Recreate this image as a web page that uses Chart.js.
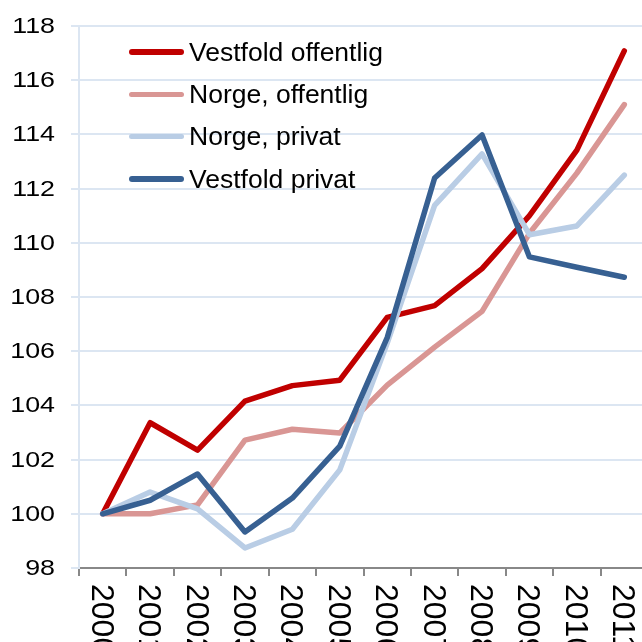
<!DOCTYPE html>
<html>
<head>
<meta charset="utf-8">
<script src="https://cdn.jsdelivr.net/npm/chart.js@4"></script>
<style>
    html, body { margin: 0; padding: 0; background: #fff; overflow: hidden; }
    #wrap { position: relative; width: 642px; height: 642px; overflow: hidden; }
    #legend { position: absolute; left: 129px; top: 31px; font: 26.5px "Liberation Sans", Arial, sans-serif; color: #000; }
    .row { display: flex; align-items: center; height: 42.3px; }
    .swatch { width: 55px; height: 5.5px; border-radius: 3px; margin-right: 5px; }
    .year { position: absolute; font: 32px/32px "Liberation Sans", Arial, sans-serif; color: #000; white-space: nowrap;
            transform-origin: 0 0; transform: rotate(90deg); }
</style>
</head>
<body>
<div id="wrap">
    <canvas id="chart" width="648" height="642"></canvas>
    <div id="legend"></div>
</div>
<script>
const years = ['2000', '2001', '2002', '2003', '2004', '2005', '2006', '2007', '2008', '2009', '2010', '2011'];
const vestfoldOffentlig = [100, 103.36, 102.35, 104.16, 104.73, 104.93, 107.25, 107.68, 109.05, 111.0, 113.42, 117.08];
const norgeOffentlig = [100, 100.0, 100.33, 102.72, 103.12, 102.98, 104.75, 106.15, 107.47, 110.35, 112.57, 115.1];
const norgePrivat = [100, 100.8, 100.18, 98.74, 99.43, 101.62, 106.3, 111.38, 113.28, 110.3, 110.62, 112.5];
const vestfoldPrivat = [100, 100.5, 101.47, 99.33, 100.58, 102.5, 106.5, 112.39, 113.98, 109.48, 109.1, 108.73];
const yTicks = [98, 100, 102, 104, 106, 108, 110, 112, 114, 116, 118];

const font = '"Liberation Sans", Arial, sans-serif';
const gridColor = '#dce6f2';

const series = [
    { label: 'Vestfold offentlig', data: vestfoldOffentlig, color: '#c00000', order: 4 },
    { label: 'Norge, offentlig', data: norgeOffentlig, color: '#d99694', order: 3 },
    { label: 'Norge, privat', data: norgePrivat, color: '#b9cde5', order: 2 },
    { label: 'Vestfold privat', data: vestfoldPrivat, color: '#376092', order: 1 }
];

// y labels drawn by hand, the source has them stretched sideways
const yLabels = {
    id: 'yLabels',
    afterDraw(chart) {
        const ctx = chart.ctx;
        const ys = chart.scales.y;
        ctx.save();
        ctx.fillStyle = '#000';
        ctx.font = '22px ' + font;
        ctx.textAlign = 'right';
        ctx.textBaseline = 'middle';
        yTicks.forEach(v => {
            ctx.save();
            ctx.translate(55, ys.getPixelForValue(v) + 1);
            ctx.scale(1.22, 1);
            ctx.fillText(String(v), 0, 0);
            ctx.restore();
        });
        ctx.restore();
    }
};

const chart = new Chart(document.getElementById('chart'), {
    type: 'line',
    data: {
        labels: years,
        datasets: series.map(s => ({
            label: s.label, data: s.data, order: s.order,
            borderColor: s.color, backgroundColor: s.color,
            borderWidth: 5.5, pointRadius: 0, tension: 0,
            borderCapStyle: 'round', borderJoinStyle: 'round'
        }))
    },
    options: {
        responsive: false,
        animation: false,
        layout: { padding: { top: 26, left: 0, right: 0, bottom: 0 } },
        plugins: { legend: { display: false }, tooltip: { enabled: false } },
        scales: {
            x: {
                offset: true,
                grid: { offset: true, drawOnChartArea: false, drawTicks: true, tickLength: 8, color: '#888', lineWidth: 2 },
                border: { color: '#888', width: 2 },
                ticks: { display: false },
                afterFit(scale) { scale.height = 74; }
            },
            y: {
                min: 98, max: 118,
                afterBuildTicks(scale) { scale.ticks = yTicks.map(v => ({ value: v })); },
                grid: { color: gridColor, lineWidth: 2, tickLength: 8 },
                border: { color: gridColor, width: 2 },
                ticks: { display: false },
                afterFit(scale) { scale.width = 79; }
            }
        }
    },
    plugins: [yLabels]
});

// x labels turned clockwise, as real text
const wrap = document.getElementById('wrap');
years.forEach((y, i) => {
    const el = document.createElement('span');
    el.className = 'year';
    el.textContent = y;
    el.style.left = (chart.scales.x.getPixelForValue(i) + 16) + 'px';
    el.style.top = '584px';
    wrap.appendChild(el);
});

const legend = document.getElementById('legend');
series.forEach(s => {
    const row = document.createElement('div');
    row.className = 'row';
    row.innerHTML = `<span class="swatch" style="background:${s.color}"></span><span>${s.label}</span>`;
    legend.appendChild(row);
});
</script>
</body>
</html>
